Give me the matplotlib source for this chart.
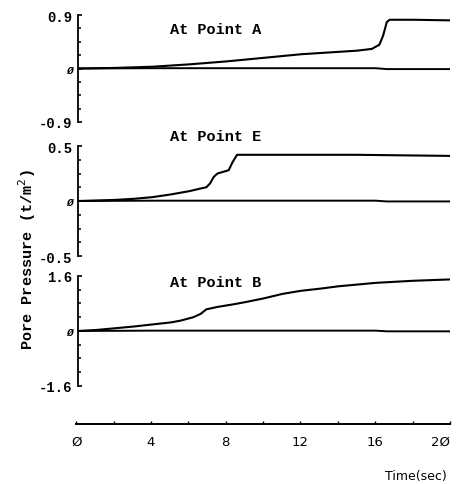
import matplotlib
matplotlib.use("Agg")
import matplotlib.pyplot as plt

# time axis (sec)
x_ticks = [0, 4, 8, 12, 16, 20]
x_tick_labels = ["Ø", "4", "8", "12", "16", "2Ø"]

# At Point A
t_a = [0, 2, 4, 6, 8, 10, 11, 12, 13, 14, 15, 15.8, 16.2, 16.4, 16.6, 16.75, 18, 20]
p_a = [0, 0.01, 0.03, 0.07, 0.12, 0.18, 0.21, 0.24, 0.26, 0.28, 0.30, 0.33, 0.40, 0.55, 0.78, 0.82, 0.82, 0.81]
base_a_t = [0, 4, 8, 12, 16, 16.6, 20]
base_a = [0, 0.005, 0.005, 0.005, 0.005, -0.01, -0.01]

# At Point E
t_e = [0, 2, 3, 4, 5, 5.5, 6, 6.5, 6.9, 7.1, 7.3, 7.5, 7.8, 8.1, 8.3, 8.55, 10, 15, 20]
p_e = [0, 0.01, 0.02, 0.035, 0.06, 0.075, 0.09, 0.11, 0.125, 0.16, 0.22, 0.25, 0.265, 0.28, 0.35, 0.42, 0.42, 0.42, 0.41]
base_e_t = [0, 4, 8, 12, 16, 16.6, 20]
base_e = [0, 0.003, 0.003, 0.003, 0.003, -0.004, -0.004]

# At Point B
t_b = [0, 1, 2, 3, 4, 5, 5.5, 6.2, 6.6, 6.9, 7.5, 8.4, 9, 10, 11, 12, 13, 14, 15, 16, 17, 18, 19, 20]
p_b = [0, 0.03, 0.08, 0.13, 0.19, 0.25, 0.30, 0.40, 0.50, 0.63, 0.70, 0.78, 0.84, 0.95, 1.08, 1.17, 1.23, 1.30, 1.35, 1.40, 1.43, 1.46, 1.48, 1.50]
base_b_t = [0, 4, 8, 12, 16, 16.6, 20]
base_b = [0, 0.01, 0.01, 0.01, 0.01, -0.01, -0.01]

panels = [
    ("At Point A", 0.9, ["0.9", "Ø", "-0.9"], t_a, p_a, base_a_t, base_a, [0.7464, 0.2206], 0.869),
    ("At Point E", 0.5, ["0.5", "Ø", "-0.5"], t_e, p_e, base_e_t, base_e, [0.4701, 0.2268], 1.09),
    ("At Point B", 1.6, ["1.6", "Ø", "-1.6"], t_b, p_b, base_b_t, base_b, [0.2021, 0.2268], 0.945),
]

mono = "Liberation Mono"
fig = plt.figure(figsize=(4.6, 4.85), dpi=100)
left, width = 0.1696, 0.8087

for title, lim, labels, t, p, bt, b, (bot, h), ty in panels:
    ax = fig.add_axes([left, bot, width, h])
    ax.plot(t, p, color="black", lw=1.5)
    ax.plot(bt, b, color="black", lw=1.4)
    ax.set_xlim(0, 20)
    ax.set_ylim(-lim, lim)
    for s in ["top", "right", "bottom"]:
        ax.spines[s].set_visible(False)
    ax.spines["left"].set_linewidth(1.3)
    ax.set_xticks([])
    ax.set_yticks([lim, 0, -lim])
    ax.set_yticklabels(labels, fontfamily=mono, fontsize=10, fontweight="bold")
    ax.get_yticklabels()[1].set_fontsize(8)
    ax.get_yticklabels()[1].set_fontstyle("italic")
    ax.set_yticks([lim * k / 4 for k in range(-3, 4) if k != 0], minor=True)
    ax.tick_params(axis="y", which="major", direction="in", length=3, width=1.2, pad=4)
    ax.tick_params(axis="y", which="minor", direction="in", length=2, width=1.1)
    ax.text(0.247, ty, title, transform=ax.transAxes, fontfamily=mono,
            fontsize=11, fontweight="bold", va="center", ha="left")

# separate time axis at the bottom
axt = fig.add_axes([left - 0.004, 0.1237, width + 0.004, 0.001])
axt.set_xlim(0, 20)
axt.set_ylim(0, 1)
for s in ["top", "right", "left"]:
    axt.spines[s].set_visible(False)
axt.spines["bottom"].set_linewidth(1.4)
axt.set_yticks([])
axt.set_xticks(x_ticks)
axt.set_xticklabels(x_tick_labels, fontsize=9.5)
axt.get_xticklabels()[-1].set_horizontalalignment("right")
axt.set_xticks([2, 6, 10, 14, 18], minor=True)
axt.tick_params(axis="x", which="both", direction="in", length=2, width=1.0, pad=8)

fig.text(0.0587, 0.464, "Pore Pressure (t/m$^2$)", rotation=90, fontfamily=mono,
         fontsize=11, fontweight="bold", ha="center", va="center")
fig.text(0.972, 0.0165, "Time(sec)", fontsize=9, ha="right", va="center")

fig.savefig("out.png", dpi=100)
